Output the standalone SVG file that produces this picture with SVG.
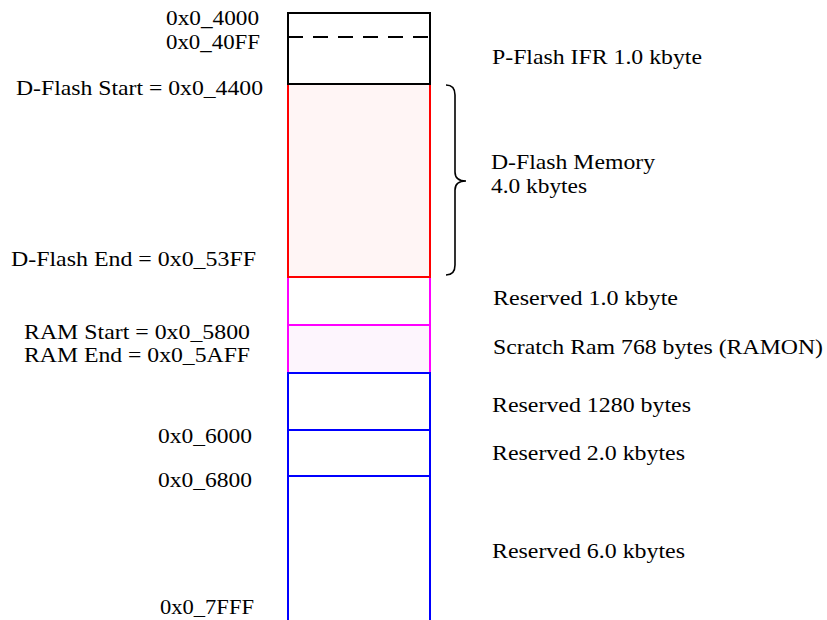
<svg xmlns="http://www.w3.org/2000/svg" width="827" height="620" viewBox="0 0 827 620">
<style>
text{font-family:"Liberation Serif","Times New Roman",serif;font-size:22px;fill:#000}
.tight{font-size:21px}
.blk{fill:#fff;stroke:#000;stroke-width:2}
.red{fill:#fff5f5;stroke:#f00;stroke-width:2}
.mag{fill:#fff;stroke:#f0f;stroke-width:2}
.magf{fill:#fdf5fd;stroke:#f0f;stroke-width:2}
.blu{fill:#fff;stroke:#00f;stroke-width:2}
</style>
<rect width="827" height="620" fill="#fff"/>
<g id="reserved-1k"><rect class="mag" x="288" y="277" width="142" height="48"/><text x="493" y="305" textLength="185" lengthAdjust="spacingAndGlyphs">Reserved 1.0 kbyte</text></g>
<g id="scratch-ram"><rect class="magf" x="288" y="325" width="142" height="48"/><text x="493" y="354" textLength="330" lengthAdjust="spacingAndGlyphs">Scratch Ram 768 bytes (RAMON)</text></g>
<g id="dflash"><rect class="red" x="288" y="84" width="142" height="193"/><text class="tight" x="491" y="169" textLength="164" lengthAdjust="spacingAndGlyphs">D-Flash Memory</text><text class="tight" x="491" y="192.5" textLength="96" lengthAdjust="spacingAndGlyphs">4.0 kbytes</text></g>
<g id="pflash-ifr"><rect class="blk" x="288" y="13" width="142" height="71"/><line x1="288" y1="37" x2="434" y2="37" stroke="#000" stroke-width="2" stroke-dasharray="15 10"/><text x="492" y="64" textLength="210" lengthAdjust="spacingAndGlyphs">P-Flash IFR 1.0 kbyte</text></g>
<g id="reserved-1280"><rect class="blu" x="288" y="373" width="142" height="57"/><text x="492" y="412" textLength="199" lengthAdjust="spacingAndGlyphs">Reserved 1280 bytes</text></g>
<g id="reserved-2k"><rect class="blu" x="288" y="430" width="142" height="46"/><text x="492" y="460" textLength="193" lengthAdjust="spacingAndGlyphs">Reserved 2.0 kbytes</text></g>
<g id="reserved-6k"><rect class="blu" x="288" y="476" width="142" height="160"/><text x="492" y="558" textLength="193" lengthAdjust="spacingAndGlyphs">Reserved 6.0 kbytes</text></g>
<g id="addresses">
<text class="tight" x="166" y="25" textLength="93" lengthAdjust="spacingAndGlyphs">0x0_4000</text>
<text class="tight" x="166" y="48.5" textLength="94" lengthAdjust="spacingAndGlyphs">0x0_40FF</text>
<text x="16" y="95" textLength="247" lengthAdjust="spacingAndGlyphs">D-Flash Start = 0x0_4400</text>
<text x="11" y="266" textLength="245" lengthAdjust="spacingAndGlyphs">D-Flash End = 0x0_53FF</text>
<text x="24" y="339" textLength="226" lengthAdjust="spacingAndGlyphs">RAM Start = 0x0_5800</text>
<text x="24" y="362" textLength="226" lengthAdjust="spacingAndGlyphs">RAM End = 0x0_5AFF</text>
<text x="158" y="443" textLength="94" lengthAdjust="spacingAndGlyphs">0x0_6000</text>
<text x="158" y="487" textLength="94" lengthAdjust="spacingAndGlyphs">0x0_6800</text>
<text x="160" y="614" textLength="94" lengthAdjust="spacingAndGlyphs">0x0_7FFF</text>
</g>
<g id="connectors">
<path d="M446,85 Q455,85 455,95 L455,172 Q455,181 466,181 Q455,181 455,190 L455,265 Q455,275 446,275" fill="none" stroke="#000" stroke-width="1.6"/>
</g>
</svg>
